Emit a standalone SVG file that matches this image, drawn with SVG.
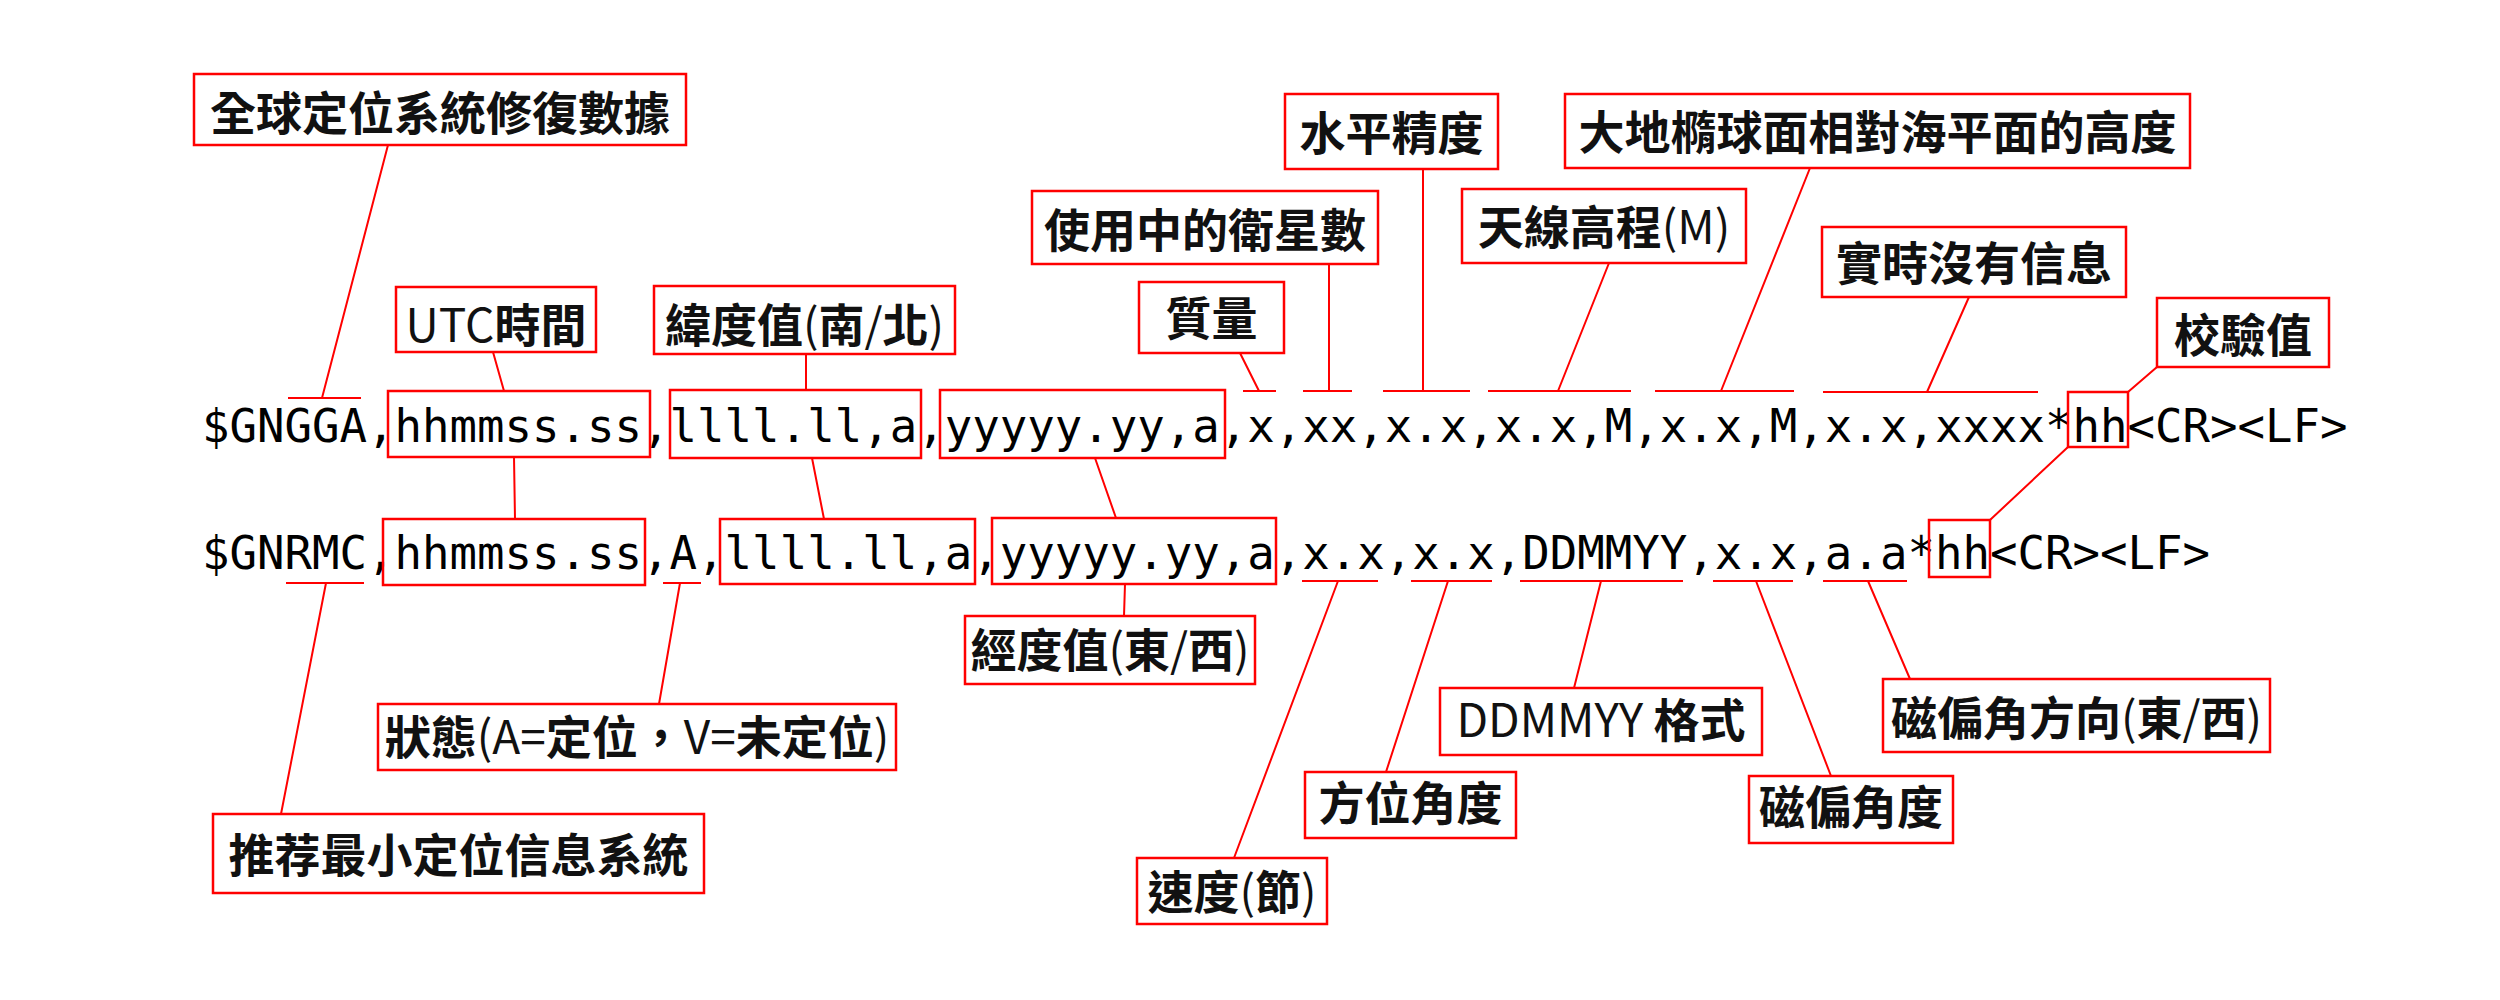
<svg xmlns="http://www.w3.org/2000/svg" width="2500" height="1000" viewBox="0 0 2500 1000">
<style>
.bg{fill:#ffffff}
.box{fill:none;stroke:#ff0000;stroke-width:2.5}
.ln{stroke:#ff0000;stroke-width:2;fill:none}
.code{font-family:"DejaVu Sans Mono","Liberation Mono",monospace;font-size:45.7px;fill:#000}
.lbl{font-family:"Noto Sans CJK TC","Noto Sans",sans-serif;font-size:46px;text-anchor:middle;fill:#111}
.b{font-weight:700}
</style>
<rect class="bg" x="0" y="0" width="2500" height="1000"/>
<g id="connectors">
<path class="ln" d="M288,398H361 M1243,391H1276 M1303,391H1352 M1383,391H1470 M1488,391H1631 M1655,391H1794 M1823,392H2038"/>
<path class="ln" d="M286,583H364 M663,583H701 M1302,581H1378 M1411,581H1492 M1520,581H1683 M1713,581H1793 M1823,581H1907"/>
<path class="ln" d="M388,145L322,398 M493,352L504,391 M806,354L806,390 M1240,353L1259,391 M1329,264L1329,391 M1423,169L1423,391 M1609,263L1558,391 M1810,168L1721,391 M1969,297L1927,392 M2157,367L2128,392"/>
<path class="ln" d="M514,457L515,519 M812,458L824,519 M1095,458L1116,518 M2068,447L1990,520"/>
<path class="ln" d="M326,583L281,814 M680,583L659,704 M1125,584L1124,616 M1338,581L1234,858 M1448,581L1386,772 M1601,581L1574,688 M1756,581L1831,776 M1868,581L1910,679"/>
</g>
<g id="gngga-line">
<text class="code" x="202" y="441.5">$GNGGA,hhmmss.ss,llll.ll,a,yyyyy.yy,a,x,xx,x.x,x.x,M,x.x,M,x.x,xxxx*hh&lt;CR&gt;&lt;LF&gt;</text>
<rect class="box" x="388" y="391" width="262" height="66"/>
<rect class="box" x="670" y="390" width="251" height="68"/>
<rect class="box" x="940" y="390" width="285" height="68"/>
<rect class="box" x="2068" y="392" width="60" height="55"/>
</g>
<g id="gnrmc-line">
<text class="code" x="202" y="569">$GNRMC,hhmmss.ss,A,llll.ll,a,yyyyy.yy,a,x.x,x.x,DDMMYY,x.x,a.a*hh&lt;CR&gt;&lt;LF&gt;</text>
<rect class="box" x="383" y="519" width="262" height="66"/>
<rect class="box" x="720" y="519" width="255" height="65"/>
<rect class="box" x="992" y="518" width="284" height="66"/>
<rect class="box" x="1929" y="520" width="61" height="57"/>
</g>
<g id="n-gga"><rect class="box" x="194" y="74" width="492" height="71"/><text class="lbl b" x="440" y="130">全球定位系統修復數據</text></g>
<g id="n-utc"><rect class="box" x="396" y="287" width="200" height="65"/><text class="lbl" x="496" y="341.5">UTC<tspan class="b">時間</tspan></text></g>
<g id="n-lat"><rect class="box" x="654" y="286" width="301" height="68"/><text class="lbl" x="804.5" y="342"><tspan class="b">緯度值</tspan>(<tspan class="b">南</tspan>/<tspan class="b">北</tspan>)</text></g>
<g id="n-sats"><rect class="box" x="1032" y="191" width="346" height="73"/><text class="lbl b" x="1205" y="247">使用中的衛星數</text></g>
<g id="n-quality"><rect class="box" x="1139" y="282" width="145" height="71"/><text class="lbl b" x="1211.5" y="335">質量</text></g>
<g id="n-hdop"><rect class="box" x="1285" y="94" width="213" height="75"/><text class="lbl b" x="1391.5" y="150">水平精度</text></g>
<g id="n-alt"><rect class="box" x="1462" y="189" width="284" height="74"/><text class="lbl" x="1604" y="244"><tspan class="b">天線高程</tspan>(M)</text></g>
<g id="n-geoid"><rect class="box" x="1565" y="94" width="625" height="74"/><text class="lbl b" x="1877.5" y="149">大地橢球面相對海平面的高度</text></g>
<g id="n-rt"><rect class="box" x="1822" y="227" width="304" height="70"/><text class="lbl b" x="1974" y="279.5">實時沒有信息</text></g>
<g id="n-chk"><rect class="box" x="2157" y="298" width="172" height="69"/><text class="lbl b" x="2243" y="352">校驗值</text></g>
<g id="n-lon"><rect class="box" x="965" y="616" width="290" height="68"/><text class="lbl" x="1110" y="667"><tspan class="b">經度值</tspan>(<tspan class="b">東</tspan>/<tspan class="b">西</tspan>)</text></g>
<g id="n-status"><rect class="box" x="378" y="704" width="518" height="66"/><text class="lbl" x="637" y="753.5"><tspan class="b">狀態</tspan>(A=<tspan class="b">定位，</tspan>V=<tspan class="b">未定位</tspan>)</text></g>
<g id="n-rmc"><rect class="box" x="213" y="814" width="491" height="79"/><text class="lbl b" x="458.5" y="872">推荐最小定位信息系統</text></g>
<g id="n-speed"><rect class="box" x="1137" y="858" width="190" height="66"/><text class="lbl" x="1232" y="908.5"><tspan class="b">速度</tspan>(<tspan class="b">節</tspan>)</text></g>
<g id="n-course"><rect class="box" x="1305" y="772" width="211" height="66"/><text class="lbl b" x="1410.5" y="820">方位角度</text></g>
<g id="n-date"><rect class="box" x="1440" y="688" width="322" height="67"/><text class="lbl" x="1601" y="737" xml:space="preserve">DDMMYY <tspan class="b">格式</tspan></text></g>
<g id="n-magvar"><rect class="box" x="1749" y="776" width="204" height="67"/><text class="lbl b" x="1851" y="823.5">磁偏角度</text></g>
<g id="n-magdir"><rect class="box" x="1883" y="679" width="387" height="73"/><text class="lbl" x="2076.5" y="735"><tspan class="b">磁偏角方向</tspan>(<tspan class="b">東</tspan>/<tspan class="b">西</tspan>)</text></g>
</svg>
